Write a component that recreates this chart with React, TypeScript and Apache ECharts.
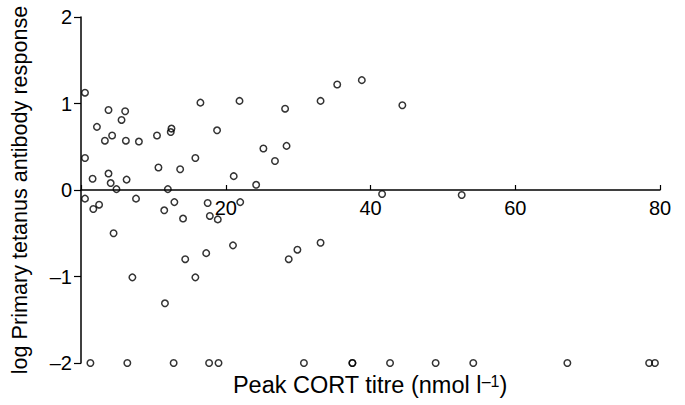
import React, { useEffect, useRef } from "react";
import * as echarts from "echarts";

// Peak CORT titre (nmol l-1) and log primary tetanus antibody response
const peakCort: number[] = [
  0.55, 3.8, 6.1, 5.6, 2.2, 4.3, 3.3, 6.2, 8.0, 10.5, 12.5, 12.4, 16.5, 21.9, 18.8, 25.2,
  0.55, 15.8, 10.7, 1.6, 3.8, 13.7, 4.1, 6.3, 4.9, 12.0, 21.1, 24.2, 0.55, 7.6, 26.8, 28.4,
  28.2, 33.1, 35.4, 38.8, 44.4, 41.6, 52.6, 1.7, 2.5, 4.5, 7.1, 11.5, 12.9, 14.1, 14.4,
  11.6, 15.8, 17.3, 17.5, 17.8, 18.9, 22.0, 21.0, 28.7, 29.9, 33.1,
];
const logResponse: number[] = [
  1.125, 0.925, 0.91, 0.81, 0.73, 0.63, 0.57, 0.57, 0.56, 0.63, 0.71, 0.67, 1.01, 1.03, 0.69, 0.48,
  0.37, 0.37, 0.26, 0.13, 0.19, 0.24, 0.08, 0.12, 0.01, 0.01, 0.16, 0.06, -0.1, -0.1, 0.335, 0.51,
  0.94, 1.03, 1.22, 1.27, 0.98, -0.046, -0.058, -0.22, -0.17, -0.5, -1.01, -0.235, -0.14, -0.33, -0.8,
  -1.31, -1.01, -0.73, -0.15, -0.3, -0.34, -0.14, -0.64, -0.8, -0.69, -0.61,
];
// Non-responders plotted at the floor value
const floorCort: number[] = [1.3, 6.4, 12.8, 17.7, 19.0, 30.8, 37.5, 37.5, 42.7, 49.0, 54.2, 67.2, 78.5, 79.3];
const floorValue = -2;

const xTicks = { min: 0, max: 80, interval: 20 };
const yTicks = { min: -2, max: 2, interval: 1 };

const xTitle = "Peak CORT titre (nmol l";
const xTitleSup = "–1";
const yTitle = "log Primary tetanus antibody response";

const FONT = "Liberation Sans, Arial, Helvetica, sans-serif";

const GRID_TOP = 17;
const GRID_BOTTOM = 42;
const CHART_H = 405;

export default function App() {
  const ref = useRef<HTMLDivElement>(null);
  useEffect(() => {
    if (!ref.current) return;
    const chart = echarts.init(ref.current, undefined, { renderer: "svg" });
    const points = peakCort.map((x, i) => [x, logResponse[i]]);
    floorCort.forEach((x) => points.push([x, floorValue]));
    // move the x axis (line, ticks, labels) up to y = 0
    const plotH = CHART_H - GRID_TOP - GRID_BOTTOM;
    const zeroFrac = (0 - yTicks.min) / (yTicks.max - yTicks.min);
    const xOffset = -plotH * zeroFrac;
    chart.setOption({
      animation: false,
      backgroundColor: "#fff",
      grid: {
        left: 81,
        right: 25,
        top: GRID_TOP,
        bottom: GRID_BOTTOM,
        containLabel: false,
        outerBoundsMode: "none",
      },
      xAxis: {
        type: "value",
        position: "bottom",
        offset: xOffset,
        min: xTicks.min,
        max: xTicks.max,
        interval: xTicks.interval,
        axisLine: { onZero: false, lineStyle: { color: "#000", width: 1.5 } },
        axisTick: { inside: true, length: 5, lineStyle: { color: "#000", width: 1.2 } },
        axisLabel: {
          margin: 8,
          color: "#000",
          fontSize: 20,
          fontFamily: FONT,
          formatter: (v: number) => (v === 0 ? "" : String(v)),
        },
        splitLine: { show: false },
      },
      yAxis: {
        type: "value",
        min: yTicks.min,
        max: yTicks.max,
        interval: yTicks.interval,
        name: yTitle,
        nameLocation: "middle",
        nameRotate: 90,
        nameGap: 51,
        nameTextStyle: { color: "#000", fontSize: 21.6, fontFamily: FONT },
        axisLine: { onZero: false, lineStyle: { color: "#000", width: 1.5 } },
        axisTick: { inside: false, length: 7, lineStyle: { color: "#000", width: 1.2 } },
        axisLabel: {
          margin: 9,
          color: "#000",
          fontSize: 20,
          fontFamily: FONT,
          formatter: (v: number) => (v < 0 ? "–" + Math.abs(v) : String(v)),
        },
        splitLine: { show: false },
      },
      graphic: [
        {
          type: "text",
          x: 370,
          y: 385,
          style: {
            text: "{a|" + xTitle + "}{s|" + xTitleSup + "}{a|)}",
            align: "center",
            verticalAlign: "middle",
            fill: "#000",
            rich: {
              a: { fontSize: 23.5, fontFamily: FONT, fill: "#000", lineHeight: 24, verticalAlign: "bottom" },
              s: { fontSize: 16, fontFamily: FONT, fill: "#000", lineHeight: 16, verticalAlign: "top" },
            },
          },
        },
      ],
      series: [
        {
          type: "scatter",
          data: points,
          symbol: "circle",
          symbolSize: 6.5,
          clip: false,
          itemStyle: { color: "rgba(0,0,0,0)", borderColor: "#000", borderWidth: 1.5 },
        },
      ],
    });
    return () => chart.dispose();
  }, []);
  return (
    <div
      ref={ref}
      style={{ position: "fixed", left: 0, top: 0, width: 685, height: 405 }}
    />
  );
}
